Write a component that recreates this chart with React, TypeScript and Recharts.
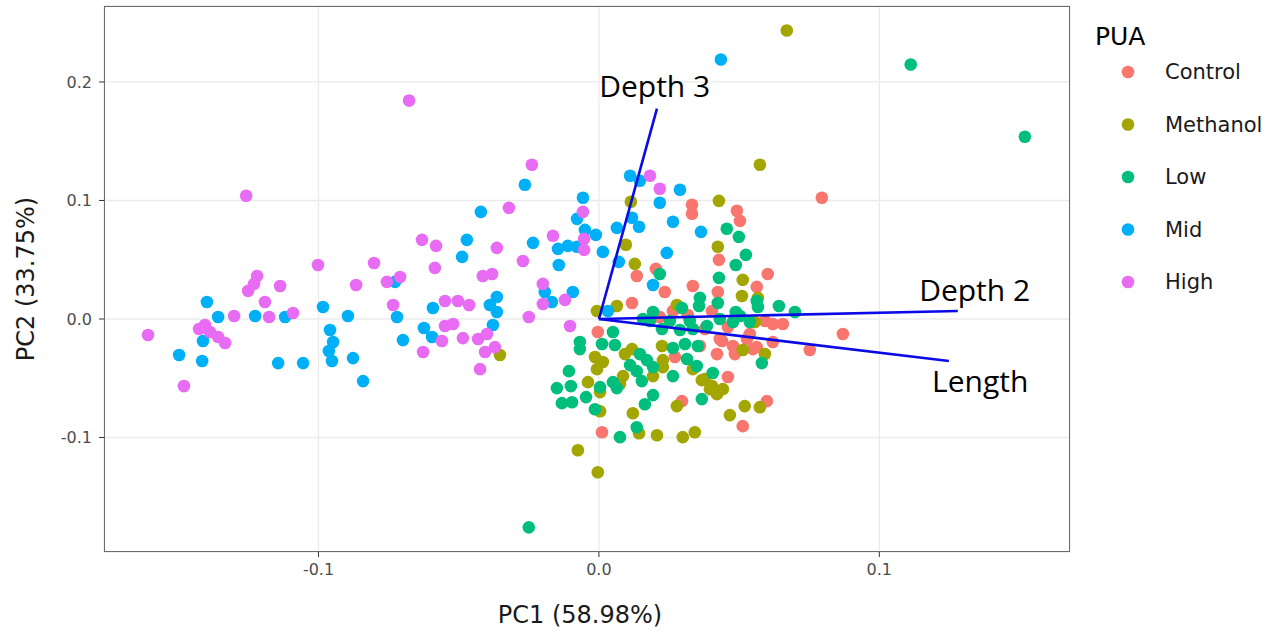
import {
  CartesianGrid,
  Label,
  Scatter,
  ScatterChart,
  XAxis,
  YAxis,
} from "recharts";

type Pt = [number, number];

const groups = ["Control", "Methanol", "Low", "Mid", "High"];
const colors = ["#F8766D", "#A3A500", "#00BF7D", "#00B0F6", "#E76BF3"];

const control: Pt[] = [
  [0.0795, 0.1023], [0.087, -0.0127], [0.0752, -0.0262], [0.0332, 0.0964], [0.0332, 0.0888],
  [0.0492, 0.0913], [0.0503, 0.0828], [0.0428, 0.0499], [0.0602, 0.038], [0.0203, 0.0423],
  [0.0135, 0.0363], [0.0235, 0.0228], [0.0118, 0.0135], [0.0335, 0.0279], [0.0563, 0.0271],
  [0.0424, 0.0228], [-0.0004, -0.011], [0.0264, 0.0068], [0.0431, -0.0169], [0.036, -0.0228],
  [0.0421, -0.0296], [0.046, -0.049], [0.0513, -0.0904], [0.0599, -0.0693], [0.0296, -0.0693],
  [0.0011, -0.0955], [0.062, -0.0042], [0.0656, -0.0042], [0.0478, -0.0228], [0.0528, -0.0169],
  [0.0563, -0.0237], [0.062, -0.0194], [0.0439, -0.0186], [0.0485, -0.0296], [0.0549, -0.0254],
  [0.0538, -0.0127], [0.0271, -0.0321], [0.0317, 0.0034], [0.0378, -0.0085], [0.046, -0.0068],
  [0.0592, -0.0017], [0.0217, 0.0017], [0.0403, 0.0068],
];

const methanol: Pt[] = [
  [0.067, 0.2434], [0.0574, 0.1302], [-0.0075, -0.1107], [-0.0004, -0.1293], [-0.0353, -0.0304],
  [0.0428, 0.0997], [0.0424, 0.0609], [0.0513, 0.033], [0.0114, 0.0989], [0.0096, 0.0626],
  [0.0128, 0.0465], [-0.0007, 0.0068], [0.0064, 0.011], [0.0278, 0.0118], [0.051, 0.0194],
  [0.0556, -0.0025], [0.0567, 0.0178], [-0.0014, -0.0321], [0.0014, -0.0363], [-0.0007, -0.0423],
  [-0.0039, -0.0533], [0.0118, -0.0254], [0.0093, -0.0296], [0.0225, -0.0228], [0.0228, -0.0347],
  [0.0228, -0.0406], [0.0193, -0.0482], [0.0086, -0.0482], [0.0075, -0.0549], [0.0004, -0.0617],
  [0.0004, -0.0778], [0.0121, -0.0795], [0.0143, -0.0964], [0.0207, -0.0981], [0.0299, -0.0997],
  [0.0342, -0.0955], [0.0278, -0.0735], [0.0367, -0.0516], [0.0396, -0.0592], [0.0421, -0.0634],
  [0.0442, -0.0592], [0.0467, -0.0811], [0.052, -0.0735], [0.0574, -0.0744], [0.0513, -0.0262],
  [0.0592, -0.0296], [0.0335, -0.0423], [0.0378, -0.0507], [0.0403, -0.0566],
];

const low: Pt[] = [
  [0.1519, 0.1538], [0.1112, 0.2147], [-0.025, -0.1758], [0.0217, 0.038], [0.0428, 0.0347],
  [0.036, 0.0178], [0.0357, 0.011], [0.0424, 0.0135], [0.0296, 0.0093], [0.0193, 0.0059],
  [0.0563, 0.0152], [0.0567, 0.0101], [0.0642, 0.011], [0.0699, 0.0059], [0.0157, 0.0],
  [0.005, -0.011], [0.0057, -0.022], [0.0011, -0.0211], [-0.0068, -0.0194], [-0.0068, -0.0254],
  [-0.0107, -0.044], [-0.015, -0.0583], [-0.01, -0.0566], [-0.0132, -0.071], [-0.0096, -0.0702],
  [-0.0046, -0.0659], [-0.0014, -0.0761], [0.0004, -0.0575], [0.005, -0.0533], [0.0064, -0.0583],
  [0.0111, -0.0389], [0.0146, -0.0296], [0.0171, -0.0347], [0.0135, -0.044], [0.0153, -0.0524],
  [0.0193, -0.0406], [0.0264, -0.0482], [0.0264, -0.0245], [0.0314, -0.0338], [0.0349, -0.0397],
  [0.0353, -0.0228], [0.0307, -0.0211], [0.0335, -0.0085], [0.0385, -0.0059], [0.0406, -0.0456],
  [0.0367, -0.0676], [0.0193, -0.0642], [0.0164, -0.0719], [0.0135, -0.0913], [0.0075, -0.0997],
  [0.0581, -0.0372], [0.0478, -0.0025], [0.0503, 0.0025], [0.0456, 0.0761], [0.0499, 0.0693],
  [0.0524, 0.0541], [0.0488, 0.0456], [0.0488, 0.0059], [0.0182, -0.0017], [0.0253, -0.0017],
  [0.0324, -0.0017], [0.0431, 0.0], [0.0538, -0.0025], [0.0225, -0.0085], [0.0289, -0.0093],
];

const mid: Pt[] = [
  [-0.1398, 0.0144], [-0.1358, 0.0017], [-0.1226, 0.0025], [-0.1119, 0.0017], [-0.1497, -0.0304],
  [-0.1412, -0.0186], [-0.1415, -0.0355], [-0.1144, -0.0372], [-0.1055, -0.0372], [-0.0984, 0.0101],
  [-0.0959, -0.0093], [-0.0948, -0.0194], [-0.0963, -0.027], [-0.0952, -0.0355], [-0.0877, -0.033],
  [-0.0841, -0.0524], [-0.0895, 0.0025], [-0.072, 0.0017], [-0.0699, -0.0178], [-0.0727, 0.0313],
  [-0.0592, 0.0093], [-0.0624, -0.0076], [-0.0595, -0.0152], [-0.0389, 0.0118], [-0.0364, 0.0186],
  [-0.0378, -0.0051], [-0.0364, 0.0059], [-0.0421, 0.0904], [-0.0471, 0.0668], [-0.0488, 0.0524],
  [0.0435, 0.2189], [-0.0264, 0.1133], [-0.0235, 0.0642], [-0.0146, 0.0592], [-0.0111, 0.0617],
  [-0.0078, 0.0609], [-0.0143, 0.0456], [-0.0057, 0.1023], [-0.0078, 0.0845], [-0.005, 0.0752],
  [-0.0011, 0.071], [0.0064, 0.0769], [0.0014, 0.0566], [0.0111, 0.1209], [0.0146, 0.1167],
  [0.0118, 0.0854], [0.0143, 0.0778], [0.0071, 0.0482], [0.0217, 0.0981], [0.0264, 0.082],
  [0.0289, 0.109], [0.0364, 0.0735], [0.0242, 0.0558], [0.0193, 0.0287], [-0.0093, 0.0228],
  [0.0032, 0.0068], [-0.0193, 0.0228], [-0.0168, 0.0144],
];

const high: Pt[] = [
  [-0.1608, -0.0135], [-0.148, -0.0566], [-0.1258, 0.104], [-0.0677, 0.1843], [-0.1219, 0.0363],
  [-0.1251, 0.0237], [-0.123, 0.0296], [-0.1137, 0.0279], [-0.1191, 0.0144], [-0.1301, 0.0025],
  [-0.1176, 0.0017], [-0.1091, 0.0051], [-0.1426, -0.0085], [-0.1405, -0.0051], [-0.1387, -0.011],
  [-0.1358, -0.0152], [-0.1333, -0.0203], [-0.1002, 0.0456], [-0.0866, 0.0287], [-0.0802, 0.0473],
  [-0.0756, 0.0313], [-0.0709, 0.0355], [-0.0734, 0.0118], [-0.0631, 0.0668], [-0.0581, 0.0617],
  [-0.0585, 0.0431], [-0.0549, 0.0152], [-0.0503, 0.0152], [-0.0463, 0.0118], [-0.0549, -0.0059],
  [-0.052, -0.0042], [-0.056, -0.0186], [-0.0485, -0.0161], [-0.0627, -0.0279], [-0.0424, -0.0423],
  [-0.0431, -0.0169], [-0.0399, -0.0127], [-0.0406, -0.0279], [-0.0414, 0.0363], [-0.0381, 0.038],
  [-0.0364, 0.06], [-0.0239, 0.1302], [-0.0321, 0.0938], [-0.0271, 0.049], [-0.0164, 0.0702],
  [-0.0057, 0.0904], [-0.0053, 0.0676], [-0.0053, 0.0583], [0.0182, 0.1209], [0.0217, 0.1099],
  [-0.02, 0.0296], [-0.02, 0.0127], [-0.0121, 0.0161], [-0.025, 0.0017], [-0.0103, -0.0059],
  [-0.0371, -0.0237],
];

const series = [control, methanol, low, mid, high];

// loading vectors (PC1, PC2) and where their names sit
const vectorNames = ["Depth 3", "Depth 2", "Length"];
const vectorEnds: Pt[] = [[0.0207, 0.1775], [0.128, 0.0068], [0.1248, -0.0355]];
const vectorLabelPos: Pt[] = [[0.0199, 0.197], [0.134, 0.0245], [0.136, -0.052]];

const xTicks = [-0.1, 0, 0.1];
const yTicks = [-0.1, 0, 0.1, 0.2];

const axisFont = "'DejaVu Sans', Verdana, sans-serif";

const toRows = (pts: Pt[]) => pts.map(([x, y]) => ({ x, y }));

const dot = (fill: string) => (props: any) =>
  <circle cx={props.cx} cy={props.cy} r={6.3} fill={fill} />;

const noDot = () => <g />;

const labelShape = (props: any) => (
  <text
    x={props.cx}
    y={props.cy}
    textAnchor="middle"
    dominantBaseline="central"
    fontFamily="'Open Sans', sans-serif"
    fontSize={30}
    fill="#000"
  >
    {props.payload.name}
  </text>
);

function PuaLegend() {
  return (
    <svg
      width={200}
      height={320}
      style={{ position: "absolute", left: 1073, top: 0 }}
    >
      <text x={22} y={36} dominantBaseline="central" fontFamily={axisFont} fontSize={25} fill="#000">
        PUA
      </text>
      {groups.map((g, i) => (
        <g key={g}>
          <circle cx={55} cy={72 + i * 52.5} r={6.3} fill={colors[i]} />
          <text
            x={92}
            y={72 + i * 52.5}
            dominantBaseline="central"
            fontFamily={axisFont}
            fontSize={21}
            fill="#1a1a1a"
          >
            {g}
          </text>
        </g>
      ))}
    </svg>
  );
}

export default function App() {
  const labelRows = vectorNames.map((name, i) => ({
    x: vectorLabelPos[i][0],
    y: vectorLabelPos[i][1],
    name,
  }));
  return (
    <div style={{ position: "absolute", left: 0, top: 0, width: 1273, height: 634, background: "#fff" }}>
      <ScatterChart
        width={1273}
        height={634}
        margin={{ top: 6, right: 203, bottom: 0, left: 0 }}
      >
        <CartesianGrid stroke="#EBEBEB" strokeWidth={1.3} />
        <XAxis
          type="number"
          dataKey="x"
          domain={[-0.1765, 0.168]}
          ticks={xTicks}
          tickFormatter={(v: number) => v.toFixed(1)}
          axisLine={false}
          tickLine={{ stroke: "#333" }}
          tickSize={5}
          tickMargin={7}
          height={82}
          tick={{ fill: "#4D4D4D", fontSize: 16, fontFamily: axisFont }}
          allowDataOverflow
        >
          <Label
            content={({ viewBox }: any) => (
              <text
                x={580}
                y={viewBox.y + 63}
                textAnchor="middle"
                dominantBaseline="central"
                fontFamily={axisFont}
                fontSize={24}
                fill="#1a1a1a"
              >
                PC1 (58.98%)
              </text>
            )}
          />
        </XAxis>
        <YAxis
          type="number"
          dataKey="y"
          domain={[-0.1966, 0.2641]}
          ticks={yTicks}
          tickFormatter={(v: number) => v.toFixed(1)}
          axisLine={false}
          tickLine={{ stroke: "#333" }}
          tickSize={5}
          tickMargin={7}
          width={104}
          tick={{ fill: "#4D4D4D", fontSize: 16, fontFamily: axisFont }}
          allowDataOverflow
        >
          <Label
            content={({ viewBox }: any) => {
              const cy = viewBox.y + viewBox.height / 2;
              return (
                <text
                  x={26}
                  y={cy}
                  transform={`rotate(-90 26 ${cy})`}
                  textAnchor="middle"
                  dominantBaseline="central"
                  fontFamily={axisFont}
                  fontSize={24}
                  fill="#1a1a1a"
                >
                  PC2 (33.75%)
                </text>
              );
            }}
          />
        </YAxis>
        {series.map((pts, i) => (
          <Scatter
            key={groups[i]}
            name={groups[i]}
            data={toRows(pts)}
            shape={dot(colors[i])}
            isAnimationActive={false}
          />
        ))}
        {vectorEnds.map(([x, y], i) => (
          <Scatter
            key={vectorNames[i]}
            data={[{ x: 0, y: 0 }, { x, y }]}
            line={{ stroke: "#0A0AE6", strokeWidth: 2.6 }}
            shape={noDot}
            isAnimationActive={false}
          />
        ))}
        <Scatter data={labelRows} shape={labelShape} isAnimationActive={false} />
      </ScatterChart>
      <div
        style={{
          position: "absolute",
          left: 104,
          top: 6,
          width: 966,
          height: 546,
          border: "1.5px solid #6b6b6b",
          boxSizing: "border-box",
          pointerEvents: "none",
        }}
      />
      <PuaLegend />
    </div>
  );
}
